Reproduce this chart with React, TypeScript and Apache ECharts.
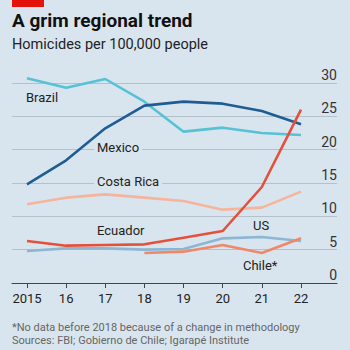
import React, { useEffect, useRef } from "react";
import * as echarts from "echarts";

const years = [2015, 2016, 2017, 2018, 2019, 2020, 2021, 2022];
const brazil = [30.7, 29.3, 30.6, 27.2, 22.7, 23.3, 22.5, 22.2];
const mexico = [14.8, 18.4, 23.2, 26.6, 27.2, 26.9, 25.8, 23.8];
const costaRica = [11.8, 12.8, 13.3, 12.8, 12.3, 11.0, 11.3, 13.7];
const ecuador = [6.3, 5.6, 5.7, 5.8, 6.8, 7.8, 14.4, 26.0];
const us = [4.8, 5.2, 5.2, 5.0, 5.1, 6.7, 6.9, 6.3];
const chile: (number | null)[] = [null, null, null, 4.5, 4.7, 5.7, 4.5, 6.7];
const yTicks = [0, 5, 10, 15, 20, 25, 30];

const FONT = "Roboto";
const BG = "#d9e5ee";

function pairs(vals: (number | null)[]) {
  return years.map((y, i) => [y, vals[i]]);
}

export default function App() {
  const ref = useRef<HTMLDivElement>(null);
  useEffect(() => {
    document.body.style.margin = "0";
    const chart = echarts.init(ref.current!, null, { renderer: "svg" });
    const line = (name: string, vals: (number | null)[], color: string) => ({
      name,
      type: "line",
      data: pairs(vals),
      showSymbol: false,
      symbol: "none",
      clip: false,
      lineStyle: { color, width: 2.6 },
      itemStyle: { color },
      connectNulls: false,
    });
    const label = (text: string, x: number, y: number, bg = false) => ({
      type: "text",
      left: x,
      top: y,
      z: 50,
      style: {
        text,
        fontFamily: FONT,
        fontSize: 13,
        fill: "#222",
        backgroundColor: bg ? BG : undefined,
        padding: bg ? [0, 3, 0, 3] : 0,
      },
    });
    chart.setOption({
      animation: false,
      backgroundColor: BG,
      textStyle: { fontFamily: FONT },
      grid: { left: 12, right: 13, top: 83, bottom: 67, containLabel: false },
      xAxis: {
        type: "value",
        min: 2014.617,
        max: 2022.92,
        axisLine: { show: true, lineStyle: { color: "#444", width: 1 } },
        axisTick: {
          show: true,
          customValues: years,
          length: 5,
          lineStyle: { color: "#444" },
        },
        axisLabel: {
          customValues: years,
          formatter: (v: number) => (v === 2015 ? "2015" : String(v).slice(2)),
          fontFamily: FONT,
          fontSize: 13,
          color: "#222",
          margin: 9,
        },
        splitLine: { show: false },
      },
      yAxis: {
        type: "value",
        position: "right",
        min: 0,
        max: 30,
        interval: 5,
        axisLine: { show: false },
        axisTick: { show: false },
        axisLabel: {
          inside: true,
          margin: 0,
          verticalAlign: "bottom",
          padding: [0, 0, 1, 0],
          fontFamily: FONT,
          fontSize: 14,
          color: "#333",
          formatter: (v: number) => (yTicks.includes(v) ? String(v) : ""),
        },
        splitLine: { show: true, lineStyle: { color: "#b5c1ca", width: 1 } },
      },
      series: [
        line("US", us, "#8cb6d2"),
        line("Chile*", chile, "#ef8868"),
        line("Costa Rica", costaRica, "#f5b59c"),
        line("Brazil", brazil, "#55c2d5"),
        line("Mexico", mexico, "#1e5d94"),
        line("Ecuador", ecuador, "#e5503a"),
      ],
      graphic: [
        { type: "rect", shape: { x: 12, y: 0, width: 32, height: 7 }, style: { fill: "#e3120b" } },
        {
          type: "text",
          left: 12,
          top: 11,
          style: { text: "A grim regional trend", fontFamily: FONT, fontSize: 19, fontWeight: "bold", fill: "#111" },
        },
        {
          type: "text",
          left: 12,
          top: 37,
          style: { text: "Homicides per 100,000 people", fontFamily: FONT, fontSize: 14.5, fill: "#222" },
        },
        label("Brazil", 26, 91),
        label("Mexico", 94, 141, true),
        label("Costa Rica", 94, 175, true),
        label("Ecuador", 97, 224),
        label("US", 253, 219),
        label("Chile*", 243, 259),
        {
          type: "text",
          left: 12,
          top: 322,
          style: {
            text: "*No data before 2018 because of a change in methodology",
            fontFamily: FONT,
            fontSize: 11,
            fill: "#666",
          },
        },
        {
          type: "text",
          left: 12,
          top: 335,
          style: {
            text: "Sources: FBI; Gobierno de Chile; Igarapé Institute",
            fontFamily: FONT,
            fontSize: 11,
            fill: "#666",
          },
        },
      ],
    });
    return () => chart.dispose();
  }, []);
  return <div ref={ref} style={{ width: 350, height: 350, position: "absolute", left: 0, top: 0 }} />;
}
